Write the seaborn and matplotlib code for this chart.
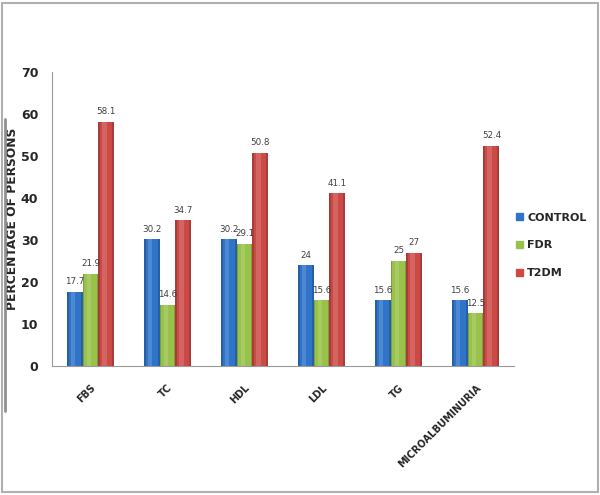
import numpy as np
import pandas as pd
import matplotlib
matplotlib.use('Agg')
import matplotlib.pyplot as plt
import seaborn as sns
from matplotlib.lines import Line2D
from matplotlib.patches import Rectangle

# data
categories = ['FBS', 'TC', 'HDL', 'LDL', 'TG', 'MICROALBUMINURIA']
groups = ['CONTROL', 'FDR', 'T2DM']
control = [17.7, 30.2, 30.2, 24, 15.6, 15.6]
fdr = [21.9, 14.6, 29.1, 15.6, 25, 12.5]
t2dm = [58.1, 34.7, 50.8, 41.1, 27, 52.4]
labels_control = ['17.7', '30.2', '30.2', '24', '15.6', '15.6']
labels_fdr = ['21.9', '14.6', '29.1', '15.6', '25', '12.5']
labels_t2dm = ['58.1', '34.7', '50.8', '41.1', '27', '52.4']
colors = ['#2f74c8', '#98c24a', '#cc4a46']

df = pd.DataFrame({
    'test': categories * 3,
    'group': [groups[0]] * 6 + [groups[1]] * 6 + [groups[2]] * 6,
    'value': control + fdr + t2dm,
})

sns.set_style('white')
plt.rcParams['font.family'] = ['DejaVu Sans']

fig = plt.figure(figsize=(6, 4.95), dpi=100)
ax = fig.add_axes([0.0867, 0.2606, 0.77, 0.594])

sns.barplot(data=df, x='test', y='value', hue='group', palette=colors,
            width=0.62, gap=0, ax=ax, errorbar=None, edgecolor='none',
            saturation=1, legend=False)

# fake the cylinder shading: light strip in the middle, dark sides
for cont in ax.containers:
    for bar in cont:
        x, w, h = bar.get_x(), bar.get_width(), bar.get_height()
        z = bar.get_zorder() + 0.1
        ax.add_patch(Rectangle((x + w * 0.25, 0), w * 0.3, h, color='white',
                               alpha=0.15, lw=0, zorder=z))
        ax.add_patch(Rectangle((x, 0), w * 0.12, h, color='black',
                               alpha=0.18, lw=0, zorder=z))
        ax.add_patch(Rectangle((x + w * 0.88, 0), w * 0.12, h, color='black',
                               alpha=0.18, lw=0, zorder=z))

for cont, labs in zip(ax.containers, [labels_control, labels_fdr, labels_t2dm]):
    ax.bar_label(cont, labels=labs, padding=4, fontsize=6.3, color='#404040')

ax.set_ylim(0, 70)
ax.set_xlim(-0.5, 5.5)
ax.set_yticks(range(0, 71, 10))
ax.tick_params(axis='y', labelsize=9, length=4, color='#999999', pad=6)
for t in ax.get_yticklabels():
    t.set_fontweight('bold')

ax.set_xticks(range(6))
ax.set_xticklabels(categories, rotation=45, ha='right', rotation_mode='anchor',
                   fontsize=7, fontweight='bold')
ax.tick_params(axis='x', which='major', length=0, pad=12)
ax.set_xticks(np.arange(-0.5, 6, 1), minor=True)
ax.tick_params(axis='x', which='minor', length=4, color='#999999')

ax.set_xlabel('')
ax.set_ylabel('PERCENTAGE OF PERSONS', fontsize=8.8, fontweight='bold')
ax.yaxis.set_label_coords(-0.071, 0.5)

sns.despine(ax=ax)
ax.spines['left'].set_color('#999999')
ax.spines['bottom'].set_color('#999999')

handles = [Rectangle((0, 0), 1, 1, color=c) for c in colors]
leg = ax.legend(handles, groups, loc='center left', bbox_to_anchor=(0.995, 0.41),
                frameon=False, fontsize=8, handlelength=0.6, handleheight=0.6,
                labelspacing=1.6, handletextpad=0.4, borderaxespad=0)
for t in leg.get_texts():
    t.set_fontweight('bold')

# outer frame and the grey stripe at the left
fig.patches.append(Rectangle((0.004, 0.006), 0.992, 0.988, transform=fig.transFigure,
                             fill=False, edgecolor='#b0b0b0', lw=1.5))
fig.lines.append(Line2D([0.008, 0.008], [0.17, 0.76], transform=fig.transFigure,
                        color='#909090', lw=2))

fig.savefig('out.png', dpi=100)
